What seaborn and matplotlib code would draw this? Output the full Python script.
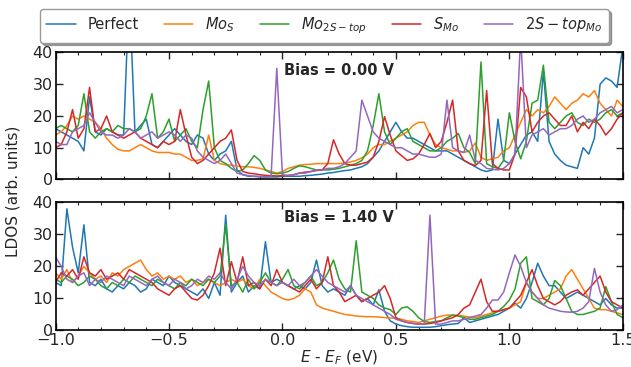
import numpy as np
import pandas as pd
import matplotlib
matplotlib.use("Agg")
import matplotlib.pyplot as plt
import seaborn as sns

# Energy grid (eV), step 0.025 from -1.0 to 1.5
energy = np.round(np.linspace(-1.0, 1.5, 101), 3)

labels = ["Perfect", "$Mo_S$", "$Mo_{2S-top}$", "$S_{Mo}$", "$2S-top_{Mo}$"]
colors = ["#1f77b4", "#ff7f0e", "#2ca02c", "#d62728", "#9467bd"]

# ---- Bias = 0.00 V ----
perfect_0 = [16, 15, 14, 13, 12, 9, 26, 15, 14, 16,
             15, 14, 14, 60, 15, 17, 19, 11, 10, 12,
             14, 16, 14, 12, 11, 14, 13, 8, 6, 8,
             9, 12, 3, 1.5, 1, 1, 0.8, 0.8, 0.8, 0.8,
             1, 1, 1, 1, 1.2, 1.3, 1.5, 1.7, 2, 2.2,
             2.5, 2.8, 3, 3.5, 4, 5, 7, 9, 12, 15,
             18, 15, 13, 13, 12, 11, 10, 9, 9, 9,
             8, 7, 6, 5, 4, 3, 2.5, 3, 19, 6,
             5, 8, 11, 14, 15, 12, 34, 12, 8, 6,
             4.5, 4, 3.5, 10, 8, 13, 30, 32, 31, 29,
             42]
mos_0 = [14, 15, 17, 20, 19, 20, 19, 18, 16, 13,
         11, 9.5, 9, 9, 10, 11, 10, 9, 8.5, 8.5,
         8.5, 8, 8, 7, 6, 6, 6.5, 14, 6, 5,
         4.6, 4.5, 4.2, 4, 4, 3.8, 3.5, 3, 2.5, 2,
         2.5, 3.5, 4, 4.5, 4.7, 4.8, 5, 5, 5, 5,
         5, 5.2, 5.5, 6, 6.8, 8, 10, 11, 11, 12,
         13, 14, 15, 17, 18, 18, 14, 11, 10, 9.5,
         9, 9, 8.5, 9, 11.5, 7, 6, 6.5, 7, 9,
         10, 14, 18, 22, 20, 22, 21, 23, 26, 24,
         22, 24, 25, 27, 26, 28, 24, 22, 20, 25,
         23]
mo2s_0 = [16, 17, 16, 15, 17, 27, 15, 13, 15, 16,
          15, 17, 16, 16, 15, 16, 20, 27, 13, 15,
          19, 12, 14, 16, 12, 10, 22, 31, 10, 6,
          5, 3.5, 2.5, 3, 5, 7.5, 6, 3, 2, 1.8,
          2, 2.5, 3.5, 4.3, 4, 3.5, 3, 3, 3, 3.2,
          3.5, 4, 4.5, 5, 6, 9, 17, 27, 15, 11,
          13, 15, 16, 12, 11, 10, 9, 9, 10, 12,
          13, 14.5, 10, 8.5, 5, 37, 5, 4, 3.5, 6,
          21, 12, 6.5, 12, 24, 25, 36, 18, 16, 18,
          20, 21, 18, 17, 19, 18, 19, 21, 22, 20,
          21]
smo_0 = [10, 11, 15, 22, 13, 16, 29, 15, 16, 20,
         15, 14, 13, 14, 15, 13, 12, 11, 10, 12,
         11, 12, 22, 14, 7, 5, 6, 8, 10, 12,
         13, 15.6, 6, 2.5, 2, 1.8, 1.5, 1.3, 1.2, 1.1,
         1.2, 1.3, 1.5, 2, 2.3, 2.5, 2.8, 3, 5, 12.5,
         8, 5, 4.5, 4.5, 5, 5.5, 7, 12, 19.8, 14,
         9, 7.5, 6, 6.5, 8, 11, 14.5, 10, 12, 18,
         25, 9, 6, 5, 4.4, 6, 28, 5, 3.5, 3,
         3, 8, 29, 26, 15, 18, 20, 21, 19, 17,
         17, 20, 15, 18, 16, 19, 17, 14, 16, 19,
         21]
top2s_0 = [12, 11, 11, 15, 16, 17, 21, 18, 15, 14,
           14, 13, 14, 16, 15, 13, 14, 15, 13, 14,
           15, 14, 12, 14, 13, 9, 7, 6, 5, 6,
           8, 5, 2, 1.5, 1.2, 1, 1, 0.8, 1, 35,
           1.5, 1.2, 1.5, 2, 2, 2.5, 3, 3, 3.5, 3.5,
           4, 5, 7, 9, 25, 20, 15, 13, 12, 11,
           10, 10, 9, 8, 8, 7.5, 7, 7, 8, 25,
           10, 9, 8.5, 14, 6, 5, 3.5, 3.2, 3, 3.5,
           5, 8, 45, 10, 14, 15, 16, 14, 15, 16,
           16, 17, 19, 20, 18, 19, 21, 22, 23, 21,
           22]

# ---- Bias = 1.40 V ----
perfect_1 = [15, 14, 38, 26, 18, 33, 15, 14, 16, 13,
             12, 14, 13, 15, 14, 12, 13, 16, 15, 14,
             17, 15, 14, 13, 12, 11, 13, 10, 15, 11,
             36, 12, 15, 17, 12, 14, 13, 27.7, 15, 16,
             15, 14, 13, 14, 13, 15, 22, 14, 12, 13,
             12, 11, 14, 11, 9, 10, 8, 12.7, 6, 3,
             2, 1.5, 1.2, 1, 1, 1, 1, 1.2, 1.5, 1.8,
             2, 2.2, 4, 2.5, 3, 3.5, 4, 4.5, 5, 6,
             7, 8.5, 7, 10, 15, 21, 17, 14, 14, 12,
             10, 11, 12, 11, 10, 9, 8, 10, 8, 7,
             7]
mos_1 = [18, 16, 19, 15, 17, 20, 18, 16, 17, 15,
         18, 17, 19, 20, 21, 22, 19, 17, 18, 16,
         17, 16, 17, 15, 16, 14, 15, 16, 15, 14,
         15, 16, 15, 16, 14, 13, 16, 14, 12, 11,
         10, 9.5, 10, 11, 13, 12, 8, 7, 6.5, 6,
         5.5, 5, 4.8, 4.5, 4.4, 4.3, 4.3, 4.2, 4, 3.9,
         3.8, 3.5, 3, 2.8, 2.5, 3, 3.5, 4, 4.5, 4.8,
         4.8, 4.7, 4.5, 4.2, 4, 4.5, 5, 5.5, 6, 6.5,
         7, 8, 9, 15, 12, 10, 10, 11, 12, 13,
         17, 19, 16, 13, 10, 7, 6.5, 6.5, 6, 5.5,
         5]
mo2s_1 = [16, 15, 17, 16, 14, 15, 17, 16, 14, 13,
          15, 14, 16, 15, 17, 16, 15, 14, 16, 15,
          14, 13, 15, 14, 16, 15, 14, 16, 15, 17,
          33, 14, 15, 12, 16, 13, 15, 18, 15, 14,
          16, 19, 14, 13, 15, 17, 14, 15, 18, 22,
          16, 13, 12, 28, 12, 11, 10, 8, 7, 6.5,
          5, 7, 7.4, 6, 4, 2.8, 2.5, 2.8, 3, 4,
          4.8, 4.5, 4, 3.5, 3.5, 4, 4.5, 5, 6, 7.5,
          9.5, 13, 21, 23, 10, 9, 8, 10, 15.6, 14,
          10, 6, 5, 5, 5.5, 6, 7, 13.7, 9, 5,
          4]
smo_1 = [15, 18, 17, 19, 16, 23, 18, 17, 19, 16,
         17, 18, 16, 19, 18, 17, 16, 15, 13, 12,
         11, 13, 14, 12, 10, 9.5, 11, 14, 18, 25.7,
         14, 21.5, 15, 23, 14, 15, 13, 16, 14, 19,
         15, 14, 13, 12, 14, 16, 13, 15, 23, 14,
         12, 9, 10, 11, 9, 10, 11, 12, 14, 10,
         4, 3, 2.5, 2.2, 2, 2, 2.2, 2.5, 3, 3.5,
         4, 5, 7, 8, 12, 16, 9, 6, 6, 6.5,
         7, 9, 11, 15, 19, 14, 10, 9, 8, 9,
         11, 12, 12.7, 11, 13, 15, 17, 12, 9, 8,
         7]
top2s_1 = [23, 20, 16, 15, 17, 18, 14, 16, 15, 17,
           16, 15, 14, 17, 16, 15, 14, 16, 17, 15,
           14, 16, 15, 13, 14, 16, 15, 17, 16, 18,
           15, 13, 16, 20, 17, 15, 14, 16, 15, 14,
           15, 14, 16, 14, 15, 17, 19, 17, 15, 14,
           13, 12, 14, 11, 10, 9, 8, 7, 6, 5,
           3.5, 3, 2.5, 2.2, 2, 2, 36, 2, 2, 2.5,
           3, 3, 3.5, 4, 4.5, 5, 7, 9.5, 9.5, 12,
           18, 23.6, 20, 15, 12, 10, 8, 7, 6.5, 6,
           5.8, 5.7, 6, 7, 9, 19.4, 12, 8, 6, 6.5,
           8]

panels = [
    ("Bias = 0.00 V", [perfect_0, mos_0, mo2s_0, smo_0, top2s_0]),
    ("Bias = 1.40 V", [perfect_1, mos_1, mo2s_1, smo_1, top2s_1]),
]

sns.set_style("ticks")
plt.rcParams["font.family"] = ["DejaVu Sans"]

fig = plt.figure(figsize=(6.31, 3.67), dpi=100)
ax_top = fig.add_axes([0.088, 0.511, 0.899, 0.346])
ax_bot = fig.add_axes([0.088, 0.0995, 0.899, 0.349])

for ax, (title, series) in zip([ax_top, ax_bot], panels):
    for lab, col, vals in zip(labels, colors, series):
        df = pd.DataFrame({"E": energy, "LDOS": vals})
        sns.lineplot(data=df, x="E", y="LDOS", ax=ax, color=col,
                     linewidth=1.1, label=lab, legend=False)
    ax.set_xlim(-1.0, 1.5)
    ax.set_ylim(0, 40)
    ax.set_yticks([0, 10, 20, 30, 40])
    ax.set_xticks([-1.0, -0.5, 0.0, 0.5, 1.0, 1.5])
    ax.set_xticks(np.arange(-1.0, 1.51, 0.1), minor=True)
    ax.tick_params(which="both", direction="in", top=True, right=True,
                   labelsize=11.5, pad=2)
    ax.tick_params(which="major", length=5, width=1)
    ax.tick_params(which="minor", length=2.5, width=0.8)
    for s in ax.spines.values():
        s.set_linewidth(1.2)
        s.set_color("black")
    ax.set_xlabel("")
    ax.set_ylabel("")
    ax.text(0.5, 0.86 if ax is ax_top else 0.88, title, transform=ax.transAxes,
            ha="center", va="center", fontsize=10.5, fontweight="bold")

ax_top.set_xticklabels([])
ax_bot.set_xticklabels(["\u22121.0", "\u22120.5", "0.0", "0.5", "1.0", "1.5"])
ax_bot.set_xlabel("$E$ - $E_F$ (eV)", fontsize=11, labelpad=0)
fig.text(0.02, 0.48, "LDOS (arb. units)", rotation=90, ha="center",
         va="center", fontsize=11)

handles, lbls = ax_top.get_legend_handles_labels()
leg = fig.legend(handles, lbls, loc="center", bbox_to_anchor=(0.514, 0.93),
                 ncol=5, fontsize=10.5, frameon=True, shadow=True,
                 handlelength=2.0, handletextpad=0.8, columnspacing=1.75,
                 borderpad=0.45, fancybox=True)
leg.get_frame().set_edgecolor("#999999")

fig.savefig("out.png", dpi=100)
